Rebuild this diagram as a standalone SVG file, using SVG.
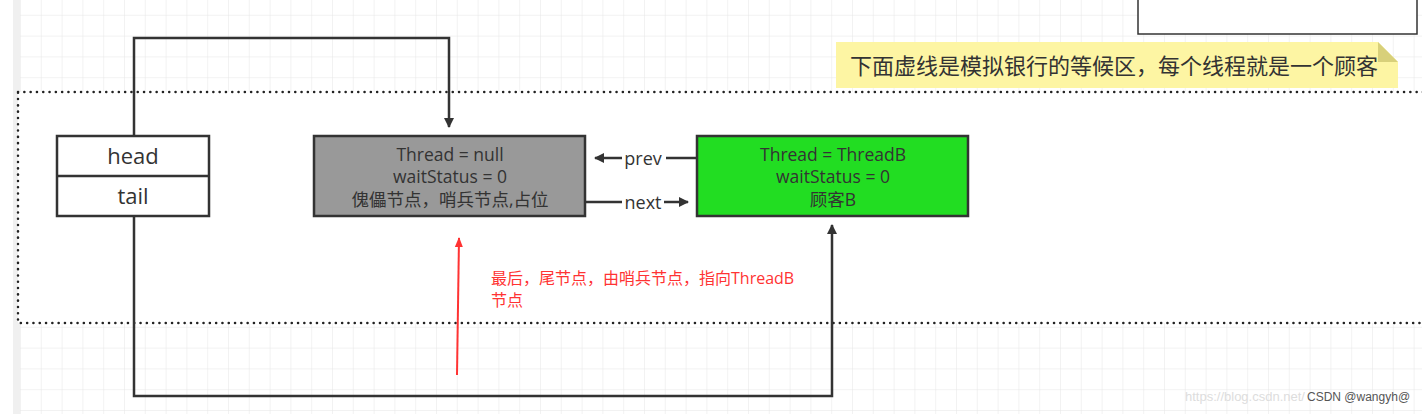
<svg xmlns="http://www.w3.org/2000/svg" width="1422" height="414" viewBox="0 0 1422 414">
<defs>
<pattern id="grid" x="20" y="-6" width="20.8" height="20.8" patternUnits="userSpaceOnUse">
<path d="M0 0H20.8M0 0V20.8" fill="none" stroke="#e6e6e6" stroke-width="1"/>
</pattern>
<marker id="ah" markerWidth="10" markerHeight="10" refX="9" refY="5" orient="auto" markerUnits="userSpaceOnUse" viewBox="0 0 10 10">
<path d="M0 0L10 5L0 10Z" fill="#333"/>
</marker>
<marker id="ahr" markerWidth="10" markerHeight="12" refX="9" refY="5" orient="auto" markerUnits="userSpaceOnUse" viewBox="0 0 10 10">
<path d="M0 1L10 5L0 9Z" fill="#f33"/>
</marker>
</defs>
<style>
text{font-family:"Open Sans","Noto Sans CJK SC",sans-serif;}
.n{font-size:17.5px;text-anchor:middle;}
.c{fill:none;stroke:#333;stroke-width:2.5;}
.lbl{font-size:18px;fill:#333;}
</style>
<rect width="1422" height="414" fill="#ffffff"/>
<rect x="13" y="0" width="7" height="414" fill="#f0f0f0"/>
<rect x="20" y="0" width="1402" height="414" fill="url(#grid)"/>
<rect x="18" y="92" width="1420" height="231" fill="#ffffff" stroke="#222" stroke-width="2.5" stroke-dasharray="0.1 6.2" stroke-linecap="round"/>

<g id="topbox"><rect x="1138" y="-4" width="279" height="38" fill="#fff" stroke="#333" stroke-width="1.5"/></g>

<g id="note">
<path d="M836 42H1378L1398 62V88H836Z" fill="#fdf5a3"/>
<path d="M1378 42L1398 62H1378Z" fill="#d8d07a"/>
<text x="850" y="74" style="font-size:22px;fill:#333;">下面虚线是模拟银行的等候区，每个线程就是一个顾客</text>
</g>

<g id="connectors">
<path class="c" d="M134 136V38H449V127" marker-end="url(#ah)"/>
<path class="c" d="M134 216V396H832V225" marker-end="url(#ah)"/>
<path class="c" d="M697 158H666"/>
<path class="c" d="M622 158H595" marker-end="url(#ah)"/>
<path class="c" d="M585 202H622"/>
<path class="c" d="M664 202H688" marker-end="url(#ah)"/>
<text class="lbl" x="643" y="165" text-anchor="middle">prev</text>
<text class="lbl" x="643" y="209" text-anchor="middle">next</text>
<path d="M457 375L459 238" stroke="#f33" stroke-width="2" fill="none" marker-end="url(#ahr)"/>
</g>

<g id="headtail">
<rect x="57" y="136" width="152" height="80" fill="#fff" stroke="#333" stroke-width="2.5"/>
<line x1="57" y1="176" x2="209" y2="176" stroke="#333" stroke-width="2.5"/>
<text class="n" x="133" y="164" style="font-size:22px;fill:#333;">head</text>
<text class="n" x="133" y="204" style="font-size:22px;fill:#333;">tail</text>
</g>

<g id="sentinel">
<rect x="314" y="136" width="271" height="80" fill="#999" stroke="#333" stroke-width="2.5"/>
<text class="n" x="450" y="161" fill="#333">Thread = null</text>
<text class="n" x="450" y="183" fill="#333">waitStatus = 0</text>
<text class="n" x="450" y="206" fill="#333">傀儡节点，哨兵节点,占位</text>
</g>

<g id="threadB">
<rect x="697" y="136" width="271" height="80" fill="#22dd22" stroke="#333" stroke-width="2.5"/>
<text class="n" x="833" y="161" fill="#333">Thread = ThreadB</text>
<text class="n" x="833" y="183" fill="#333">waitStatus = 0</text>
<text class="n" x="833" y="206" fill="#333">顾客B</text>
</g>

<g id="remark">
<text x="491" y="284" style="font-size:16px;fill:#f33;">最后，尾节点，由哨兵节点，指向ThreadB</text>
<text x="491" y="306" style="font-size:16px;fill:#f33;">节点</text>
</g>

<g id="watermark">
<text x="1185" y="401" style="font-size:13px;fill:#ddd;font-family:'Liberation Sans',sans-serif;">https://blog.csdn.net/</text>
<text x="1307" y="401" style="font-size:12px;fill:#555;font-family:'Liberation Sans',sans-serif;">CSDN @wangyh@</text>
</g>
</svg>
